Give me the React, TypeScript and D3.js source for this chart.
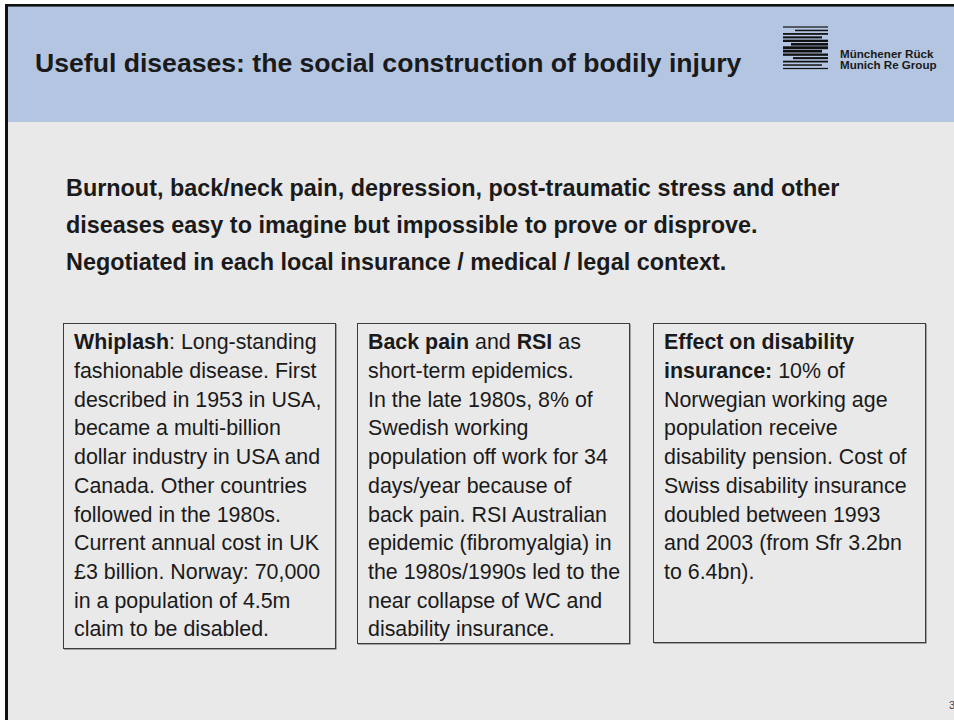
import React from "react";
import * as d3 from "d3";

type Seg = [string, boolean];

const titleText = "Useful diseases: the social construction of bodily injury";
const logoLines = ["Münchener Rück", "Munich Re Group"];
const introLines = [
  "Burnout, back/neck pain, depression, post-traumatic stress and other",
  "diseases easy to imagine but impossible to prove or disprove.",
  "Negotiated in each local insurance / medical / legal context.",
];

const box1: Seg[][] = [
  [["Whiplash", true], [": Long-standing", false]],
  [["fashionable disease. First", false]],
  [["described in 1953 in USA,", false]],
  [["became a multi-billion", false]],
  [["dollar industry in USA and", false]],
  [["Canada. Other countries", false]],
  [["followed in the 1980s.", false]],
  [["Current annual cost in UK", false]],
  [["£3 billion. Norway: 70,000", false]],
  [["in a population of 4.5m", false]],
  [["claim to be disabled.", false]],
];
const box2: Seg[][] = [
  [["Back pain", true], [" and ", false], ["RSI", true], [" as", false]],
  [["short-term epidemics.", false]],
  [["In the late 1980s, 8% of", false]],
  [["Swedish working", false]],
  [["population off work for 34", false]],
  [["days/year because of", false]],
  [["back pain. RSI Australian", false]],
  [["epidemic (fibromyalgia) in", false]],
  [["the 1980s/1990s led to the", false]],
  [["near collapse of WC and", false]],
  [["disability insurance.", false]],
];
const box3: Seg[][] = [
  [["Effect on disability", true]],
  [["insurance:", true], [" 10% of", false]],
  [["Norwegian working age", false]],
  [["population receive", false]],
  [["disability pension. Cost of", false]],
  [["Swiss disability insurance", false]],
  [["doubled between 1993", false]],
  [["and 2003 (from Sfr 3.2bn", false]],
  [["to 6.4bn).", false]],
];

const boxes = [
  { x0: 63, x1: 335, y0: 323, y1: 648, lines: box1 },
  { x0: 357, x1: 629, y0: 323, y1: 643, lines: box2 },
  { x0: 653, x1: 925, y0: 323, y1: 642, lines: box3 },
];

const logoStripes = d3.range(13);

export default function App() {
  const font = "'Liberation Sans', Arial, sans-serif";
  const ink = "#1a1a1a";
  const lineY = d3.scaleLinear().domain([0, 1]).range([349.3, 378]);
  const introY = d3.scaleLinear().domain([0, 1]).range([195.5, 232.5]);
  const stripeY = d3.scaleLinear().domain([0, 12]).range([27, 68.5]);
  return (
    <svg
      width={954}
      height={720}
      style={{ position: "fixed", left: 0, top: 0, display: "block", background: "#fff" }}
      fontFamily={font}
    >
      <rect x={6} y={4} width={948} height={716} fill="#e9e9e9" />
      <rect x={6} y={4} width={948} height={118} fill="#b3c5e1" />
      <rect x={5} y={4} width={949} height={2.6} fill="#111" />
      <rect x={5} y={4} width={3} height={716} fill="#111" />
      <text x={35} y={72} fontSize={26.6} fontWeight="bold" fill={ink}>
        {titleText}
      </text>
      {/* logo */}
      <g>
        {logoStripes.map((i) => {
          const t = Math.abs(i - 6) / 6;
          const thick = 1.2 + (1 - t) * 1.7;
          const xl = i % 4 === 1 ? 790 + t * 6 : 783;
          const xr = i % 4 === 3 ? 822 : 828;
          return <rect key={i} x={xl} y={stripeY(i) - thick / 2} width={xr - xl} height={thick} fill="#111" />;
        })}
      </g>
      {logoLines.map((s, i) => (
        <text key={s} x={840} y={57.5 + i * 11.8} fontSize={11.6} fontWeight="bold" fill={ink}>
          {s}
        </text>
      ))}
      {introLines.map((s, i) => (
        <text key={i} x={66} y={introY(i)} fontSize={23.4} fontWeight="bold" fill={ink}>
          {s}
        </text>
      ))}
      {boxes.map((b, bi) => (
        <g key={bi}>
          <line x1={b.x1 + 1} y1={b.y0 + 1} x2={b.x1 + 1} y2={b.y1 + 1} stroke="#8a8a8a" strokeWidth={1.5} />
          <line x1={b.x0 + 1} y1={b.y1 + 1} x2={b.x1 + 1.5} y2={b.y1 + 1} stroke="#8a8a8a" strokeWidth={1.5} />
          <rect x={b.x0 + 0.5} y={b.y0 + 0.5} width={b.x1 - b.x0} height={b.y1 - b.y0} fill="none" stroke="#3c3c3c" strokeWidth={1} />
          {b.lines.map((ln, li) => (
            <text key={li} x={b.x0 + 11} y={lineY(li)} fontSize={21.4} fill={ink} style={{ whiteSpace: "pre" }}>
              {ln.map((sg, si) => (
                <tspan key={si} fontWeight={sg[1] ? "bold" : "normal"}>
                  {sg[0]}
                </tspan>
              ))}
            </text>
          ))}
        </g>
      ))}
      <text x={949} y={709} fontSize={11} fill="#444">
        3
      </text>
    </svg>
  );
}
